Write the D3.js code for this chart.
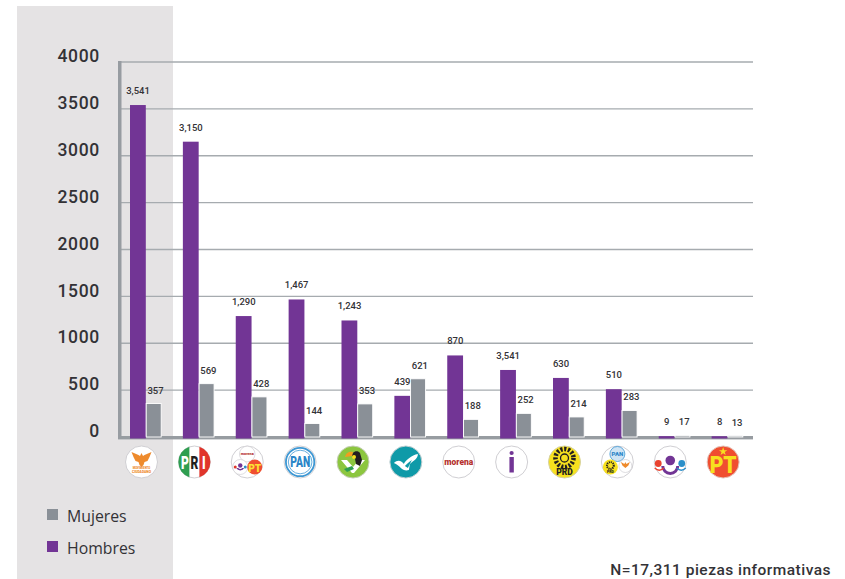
<!DOCTYPE html>
<html><head><meta charset="utf-8">
<script src="https://cdnjs.cloudflare.com/ajax/libs/d3/7.8.5/d3.min.js"></script>
<style>html,body{margin:0;padding:0;background:#fff;overflow:hidden}svg{display:block}</style>
</head><body><svg id="c" width="845" height="579"></svg>
<script>
const parties=["MC","PRI","Coalicion1","PAN","PVEM","NA","Morena","Independiente","PRD","Coalicion2","Coalicion3","PT"];
const hombres=[3541,3150,1290,1467,1243,439,870,715,630,510,9,8];
const mujeres=[357,569,428,144,353,621,188,252,214,283,17,13];
const hombresLabels=["3,541","3,150","1,290","1,467","1,243","439","870","3,541","630","510","9","8"];
const mujeresLabels=["357","569","428","144","353","621","188","252","214","283","17","13"];
const yTicks=[0,500,1000,1500,2000,2500,3000,3500,4000];
const legendItems=["Mujeres","Hombres"];
const note="N=17,311 piezas informativas";

const PURPLE="#723595",GRAY="#8a9097",GRID="#a6abaf",INK="#333236";
const svg=d3.select("#c");
svg.append("rect").attr("x",17).attr("y",6).attr("width",156).attr("height",573).attr("fill","#e5e3e4");

const y=d3.scaleLinear().domain([0,4000]).range([437,62]);
const x=d3.scaleBand().domain(parties).range([119.5,754]).paddingInner(0).paddingOuter(0);
const barW=15.8;

const ax=svg.append("g").attr("transform","translate(120,0)")
  .call(d3.axisLeft(y).tickValues(yTicks).tickSize(0).tickPadding(20).tickFormat(d3.format("d")));
ax.select(".domain").remove();
ax.selectAll("text").attr("font-family","Roboto").attr("font-weight",500).attr("font-size",17.5)
  .attr("letter-spacing",0.7).attr("fill",INK).attr("dy",0).attr("y",-5).attr("dominant-baseline","middle");

svg.append("g").selectAll("line").data(yTicks).join("line")
  .attr("x1",120).attr("x2",753).attr("y1",d=>y(d)).attr("y2",d=>y(d))
  .attr("stroke",GRID).attr("stroke-width",1.4);
svg.append("rect").attr("x",118).attr("y",61).attr("width",3.5).attr("height",378).attr("fill","#979ca1");

const g=svg.append("g");
g.selectAll(".h").data(hombres).join("rect").attr("class","h")
  .attr("x",(d,i)=>x(parties[i])+10.5).attr("width",barW)
  .attr("y",d=>y(d)).attr("height",d=>y(0)-y(d)).attr("fill",PURPLE);
g.selectAll(".m").data(mujeres).join("rect").attr("class","m")
  .attr("x",(d,i)=>x(parties[i])+10.5+barW+0.4).attr("width",barW-0.8)
  .attr("y",d=>y(d)).attr("height",d=>y(0)-y(d)).attr("fill",GRAY)
  .attr("stroke","#fff").attr("stroke-width",.9);
svg.append("rect").attr("x",118).attr("y",436).attr("width",635).attr("height",3.4).attr("fill","#979ca1");
g.raise();
svg.selectAll(".h2").data(hombres).join("rect").attr("class","h2")
  .attr("x",(d,i)=>x(parties[i])+10.5).attr("width",barW).attr("y",y(0)).attr("height",1.5).attr("fill",PURPLE);

function lab(cls,vals,labs,dx,off){
  svg.selectAll("."+cls).data(vals).join("text").attr("class",cls)
   .attr("x",(d,i)=>x(parties[i])+dx).attr("y",(d,i)=>y(d)-off(i))
   .attr("text-anchor","middle").attr("font-family","Roboto").attr("font-weight",500)
   .attr("font-size",9.5).attr("fill",INK).text((d,i)=>labs[i]);
}
lab("hl",hombres,hombresLabels,18.5,()=>11);
lab("ml",mujeres,mujeresLabels,36,()=>10);

// logos
const cx=p=>x(p)+22, cy=462, R=16;
const L=svg.append("g").selectAll("g").data(parties).join("g")
  .attr("transform",d=>`translate(${cx(d)},${cy})`);
L.append("circle").attr("r",R).attr("fill","#fff").attr("stroke","#d0cfd3").attr("stroke-width",1);
function t(s,txt,yy,fs,fill,w,xx){return s.append("text").attr("x",xx||0).attr("y",yy).attr("text-anchor","middle").attr("font-family","Roboto").attr("font-weight",w||900).attr("font-size",fs).attr("fill",fill).text(txt);}
const sel=k=>L.filter(d=>d===k);
// MC
{const s=sel("MC");s.append("path").attr("d","M0-9L1.5-6 3-7 10-10 8-5 6-1 3 0 2 3 0 5-2 3-3 0-6-1-8-5-10-10-3-7-1.5-6Z").attr("fill","#ee8a2c");
 t(s,"MOVIMIENTO",7,2.8,"#ee8a2c");t(s,"CIUDADANO",10.5,3.4,"#ee8a2c");}
// PRI
{const s=sel("PRI");
 s.append("path").attr("d","M-5-15.2A16 16 0 0 0-5 15.2Z").attr("fill","#2f9e50");
 s.append("path").attr("d","M5-15.2A16 16 0 0 1 5 15.2Z").attr("fill","#e0352b");
 [["P",-9.5,"#fff"],["R",0,"#231f20"],["I",9.5,"#fff"]].forEach(([c,px,f])=>{
   t(s,c,0,12,f,900,0).attr("transform",`translate(${px},7) scale(1,1.6)`);
 });}
// Coalition 1
{const s=sel("Coalicion1");
 s.append("circle").attr("cy",-8).attr("r",7.8).attr("fill","#fff").attr("stroke","#d0cfd3").attr("stroke-width",.7);
 t(s,"morena",-7,3.8,"#b5322e");
 s.append("circle").attr("cx",-7).attr("cy",5).attr("r",7.5).attr("fill","#fff").attr("stroke","#d0cfd3").attr("stroke-width",.7);
 s.append("circle").attr("cx",-7).attr("cy",3.5).attr("r",2.2).attr("fill",PURPLE);
 s.append("path").attr("d","M-11 6A4.5 4.5 0 0 0-3 6L-5 6A2.5 2.5 0 0 1-9 6Z").attr("fill",PURPLE);
 s.append("circle").attr("cx",-12).attr("cy",5).attr("r",1.5).attr("fill","#e0352b");
 s.append("circle").attr("cx",-2).attr("cy",5).attr("r",1.5).attr("fill","#2b8fc9");
 s.append("circle").attr("cx",7.5).attr("cy",5).attr("r",7.5).attr("fill","#f04e30");
 t(s,"PT",9.5,11,"#fbe134",900,7.5).attr("textLength",13).attr("lengthAdjust","spacingAndGlyphs");}
// PAN
{const s=sel("PAN");
 s.append("circle").attr("r",14.2).attr("fill","none").attr("stroke","#3d97d3").attr("stroke-width",1.8);
 s.append("circle").attr("r",11.8).attr("fill","none").attr("stroke","#3d97d3").attr("stroke-width",.8);
 t(s,"PAN",5,14,"#2b86c8",900).attr("textLength",20).attr("lengthAdjust","spacingAndGlyphs");}
// PVEM
{const s=sel("PVEM");
 s.select("circle").attr("fill","#8cc63f").attr("stroke","#c5cdb8");
 s.append("path").attr("d","M-12-2L-6-2 0 5 6-2 12-2 1 11-1 11Z").attr("fill","#fff");
 s.append("path").attr("d","M-1-6C-1-11 5-12 7-9L9-2 7 4 3 2 2-3Z").attr("fill","#231f20");
 s.append("path").attr("d","M0-10C-4-11-7-9-8-5L-1-6Z").attr("fill","#f39c1f");
 s.append("circle").attr("cx",1).attr("cy",-5).attr("r",2).attr("fill","#f7e11e");
 s.append("path").attr("d","M-9 7L-1 4 1 7-6 10Z").attr("fill","#2f9e50");}
// NA
{const s=sel("NA");
 s.select("circle").attr("fill","#0f9aa8").attr("stroke","#c4d0d2");
 s.append("path").attr("d","M-12 1C-8-3-4-1-2 2-1-1 6-7 12-8 12-3 8-2 4 2L3 8C0 9-3 8-5 6-7 4-9 2-12 1Z").attr("fill","#fff");
 s.append("path").attr("d","M-1 4C1 2 3 0 6-2L2 6Z").attr("fill","#0f9aa8");}
// Morena
{t(sel("Morena"),"morena",3,9,"#b5322e",900).attr("textLength",29).attr("lengthAdjust","spacingAndGlyphs");}
// Independiente
{const s=sel("Independiente");
 s.append("circle").attr("cy",-9).attr("r",2.1).attr("fill",PURPLE);
 s.append("rect").attr("x",-2.2).attr("y",-5).attr("width",4.4).attr("height",15.5).attr("fill",PURPLE);}
// PRD
{const s=sel("PRD");
 s.select("circle").attr("fill","#f7e11e").attr("stroke","#d6d2a4");
 s.append("circle").attr("cy",-4).attr("r",9).attr("fill","none").attr("stroke","#231f20").attr("stroke-width",4.6).attr("stroke-dasharray","2.2 1.6");
 s.append("circle").attr("cy",-4).attr("r",4).attr("fill","#f7e11e").attr("stroke","#231f20").attr("stroke-width",1.3);
 t(s,"PRD",13,8.5,"#231f20");}
// Coalition 2
{const s=sel("Coalicion2");
 s.append("circle").attr("cy",-8).attr("r",7.5).attr("fill","#cfe4f4").attr("stroke","#3d97d3").attr("stroke-width",.8);
 t(s,"PAN",-5.6,6,"#2b86c8");
 s.append("circle").attr("cx",-7).attr("cy",5).attr("r",7.5).attr("fill","#f7e11e");
 s.append("circle").attr("cx",-7).attr("cy",3.5).attr("r",3.4).attr("fill","none").attr("stroke","#231f20").attr("stroke-width",2).attr("stroke-dasharray","1.2 .8");
 t(s,"PRD",10.5,3.6,"#231f20",900,-7);
 s.append("circle").attr("cx",8).attr("cy",4).attr("r",6.5).attr("fill","#fff").attr("stroke","#d0cfd3").attr("stroke-width",.7);
 s.append("path").attr("d","M8 0L9 2 12.5 0 11 3.5 8 6 5 3.5 3.5 0 7 2Z").attr("fill","#ee8a2c");}
// Coalition 3
{const s=sel("Coalicion3");
 s.append("circle").attr("cx",-12).attr("cy",1.5).attr("r",3.4).attr("fill","#e9432f");
 s.append("circle").attr("cy",-1.5).attr("r",4.8).attr("fill",PURPLE);
 s.append("circle").attr("cx",11.5).attr("cy",1.5).attr("r",3.4).attr("fill","#2b8fc9");
 s.append("path").attr("d","M-9 4A9 9 0 0 0 9 4L6 4A6 6 0 0 1-6 4Z").attr("fill",PURPLE);
 s.append("path").attr("d","M-15.5 6Q-11 10.5-6.5 6").attr("fill","none").attr("stroke","#e9432f").attr("stroke-width",1.5);
 s.append("path").attr("d","M6.5 6Q11 10.5 15.5 6").attr("fill","none").attr("stroke","#2b8fc9").attr("stroke-width",1.5);}
// PT
{const s=sel("PT");
 s.select("circle").attr("fill","#f04e30").attr("stroke","#e3c6be");
 s.append("path").attr("d",d3.symbol().type(d3.symbolStar).size(22)).attr("transform","translate(0,-10.5)").attr("fill","#f7e11e");
 t(s,"PT",11,24,"#f7e11e",900).attr("textLength",27).attr("lengthAdjust","spacingAndGlyphs");}

// legend
const leg=svg.append("g").selectAll("g").data(legendItems).join("g")
  .attr("transform",(d,i)=>`translate(47,${509+i*32})`);
leg.append("rect").attr("width",11).attr("height",11).attr("fill",(d,i)=>i?PURPLE:GRAY);
leg.append("text").attr("x",20).attr("y",12.5).attr("font-family","Open Sans").attr("font-size",15.8).attr("fill",INK).text(d=>d);

svg.append("text").attr("x",831).attr("y",575).attr("text-anchor","end").attr("font-family","Roboto").attr("font-weight",500)
  .attr("font-size",15.5).attr("letter-spacing",.48).attr("fill",INK).text(note);
</script></body></html>
